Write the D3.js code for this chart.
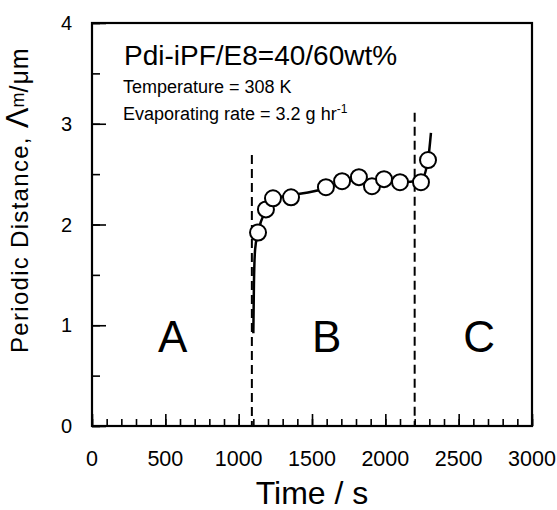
<!DOCTYPE html>
<html>
<head>
<meta charset="utf-8">
<script src="https://cdn.jsdelivr.net/npm/d3@7"></script>
<style>
  body { margin: 0; background: #fff; }
  text { font-family: "Liberation Sans", Arial, sans-serif; fill: #000; }
</style>
</head>
<body>
<div id="chart"></div>
<script>
// measured points (time in s, periodic distance in um)
const times = [1132, 1186, 1234, 1357, 1595, 1705, 1820, 1909, 1991, 2100, 2243, 2291];
const distances = [1.92, 2.15, 2.26, 2.27, 2.37, 2.43, 2.47, 2.38, 2.45, 2.42, 2.42, 2.64];

// hand drawn guide curve through the points
const curveTimes = [1100, 1104, 1112, 1132, 1186, 1234, 1357, 1595, 1705, 1820, 1909, 1991, 2100, 2243, 2291, 2311];
const curveValues = [0.92, 1.4, 1.75, 1.92, 2.15, 2.26, 2.29, 2.36, 2.42, 2.45, 2.41, 2.43, 2.42, 2.44, 2.64, 2.91];

// region boundaries (dashed lines)
const boundaryTimes = [1090, 2200];
const boundaryTops = [2.69, 3.11];
const regionLabels = ["A", "B", "C"];
const regionCenters = [550, 1600, 2640];

const xTicks = [0, 500, 1000, 1500, 2000, 2500, 3000];
const yTicks = [0, 1, 2, 3, 4];

const margin = { top: 23, right: 25, bottom: 84, left: 92 };
const width = 557 - margin.left - margin.right;
const height = 510 - margin.top - margin.bottom;

const svg = d3.select("#chart").append("svg")
    .attr("width", 557)
    .attr("height", 510);

const g = svg.append("g")
    .attr("transform", `translate(${margin.left},${margin.top})`);

const x = d3.scaleLinear().domain([0, 3000]).range([0, width]);
const y = d3.scaleLinear().domain([0, 4]).range([height, 0]);

// inward ticks: minor first, then major
g.append("g")
    .attr("transform", `translate(0,${height})`)
    .call(d3.axisTop(x).tickValues(d3.range(0, 3001, 100)).tickSize(7).tickFormat(""))
    .call(a => a.select(".domain").remove());
g.append("g")
    .attr("transform", `translate(0,${height})`)
    .call(d3.axisTop(x).tickValues(xTicks).tickSize(12).tickFormat(""))
    .call(a => a.select(".domain").remove());
g.append("g")
    .call(d3.axisRight(y).tickValues(d3.range(0, 4.01, 0.5)).tickSize(8).tickFormat(""))
    .call(a => a.select(".domain").remove());
g.append("g")
    .call(d3.axisRight(y).tickValues(yTicks).tickSize(14).tickFormat(""))
    .call(a => a.select(".domain").remove());
g.selectAll(".tick line").attr("stroke", "#000").attr("stroke-width", 1.6);

// tick labels
g.selectAll(".xlab").data(xTicks).enter().append("text")
    .attr("x", d => x(d))
    .attr("y", height + 40)
    .attr("text-anchor", "middle")
    .attr("font-size", 21.5)
    .text(d => d);
g.selectAll(".ylab").data(yTicks).enter().append("text")
    .attr("x", -20)
    .attr("y", d => y(d) + 7)
    .attr("text-anchor", "end")
    .attr("font-size", 20)
    .text(d => d);

// frame
g.append("rect")
    .attr("width", width)
    .attr("height", height)
    .attr("fill", "none")
    .attr("stroke", "#000")
    .attr("stroke-width", 2.2);

// dashed boundaries
g.selectAll(".bound").data(boundaryTimes).enter().append("line")
    .attr("x1", d => x(d))
    .attr("x2", d => x(d))
    .attr("y1", (d, i) => y(boundaryTops[i]))
    .attr("y2", height)
    .attr("stroke", "#000")
    .attr("stroke-width", 2)
    .attr("stroke-dasharray", "9,5");

// region letters
g.selectAll(".region").data(regionLabels).enter().append("text")
    .attr("x", (d, i) => x(regionCenters[i]))
    .attr("y", y(0.73))
    .attr("text-anchor", "middle")
    .attr("font-size", 44)
    .text(d => d);

// guide curve
const line = d3.line()
    .x((d, i) => x(curveTimes[i]))
    .y(d => y(d))
    .curve(d3.curveMonotoneX);
g.append("path")
    .attr("d", line(curveValues))
    .attr("fill", "none")
    .attr("stroke", "#000")
    .attr("stroke-width", 2.5);

// points
g.selectAll(".pt").data(times).enter().append("circle")
    .attr("cx", d => x(d))
    .attr("cy", (d, i) => y(distances[i]))
    .attr("r", 8)
    .attr("fill", "#fff")
    .attr("stroke", "#000")
    .attr("stroke-width", 2);

// annotations
g.append("text")
    .attr("x", 32).attr("y", 42)
    .attr("font-size", 28)
    .text("Pdi-iPF/E8=40/60wt%");
g.append("text")
    .attr("x", 31).attr("y", 70)
    .attr("font-size", 18)
    .text("Temperature = 308 K");
const ev = g.append("text")
    .attr("x", 31).attr("y", 97)
    .attr("font-size", 18);
ev.append("tspan").text("Evaporating rate = 3.2 g hr");
ev.append("tspan").attr("font-size", 12).attr("dy", -7).text("-1");

// axis titles
svg.append("text")
    .attr("x", margin.left + width / 2)
    .attr("y", 504)
    .attr("text-anchor", "middle")
    .attr("font-size", 32)
    .text("Time / s");

const yl = svg.append("text")
    .attr("transform", "translate(28,353) rotate(-90)")
    .attr("text-anchor", "start")
    .attr("font-size", 24);
yl.append("tspan").attr("letter-spacing", 1.3).text("Periodic Distance,  ");
yl.append("tspan").attr("font-size", 31).text("Λ");
yl.append("tspan").attr("font-size", 18).attr("dy", -4).text("m");
yl.append("tspan").attr("dy", 4).attr("font-size", 25).attr("letter-spacing", 1).text("/μm");
</script>
</body>
</html>
